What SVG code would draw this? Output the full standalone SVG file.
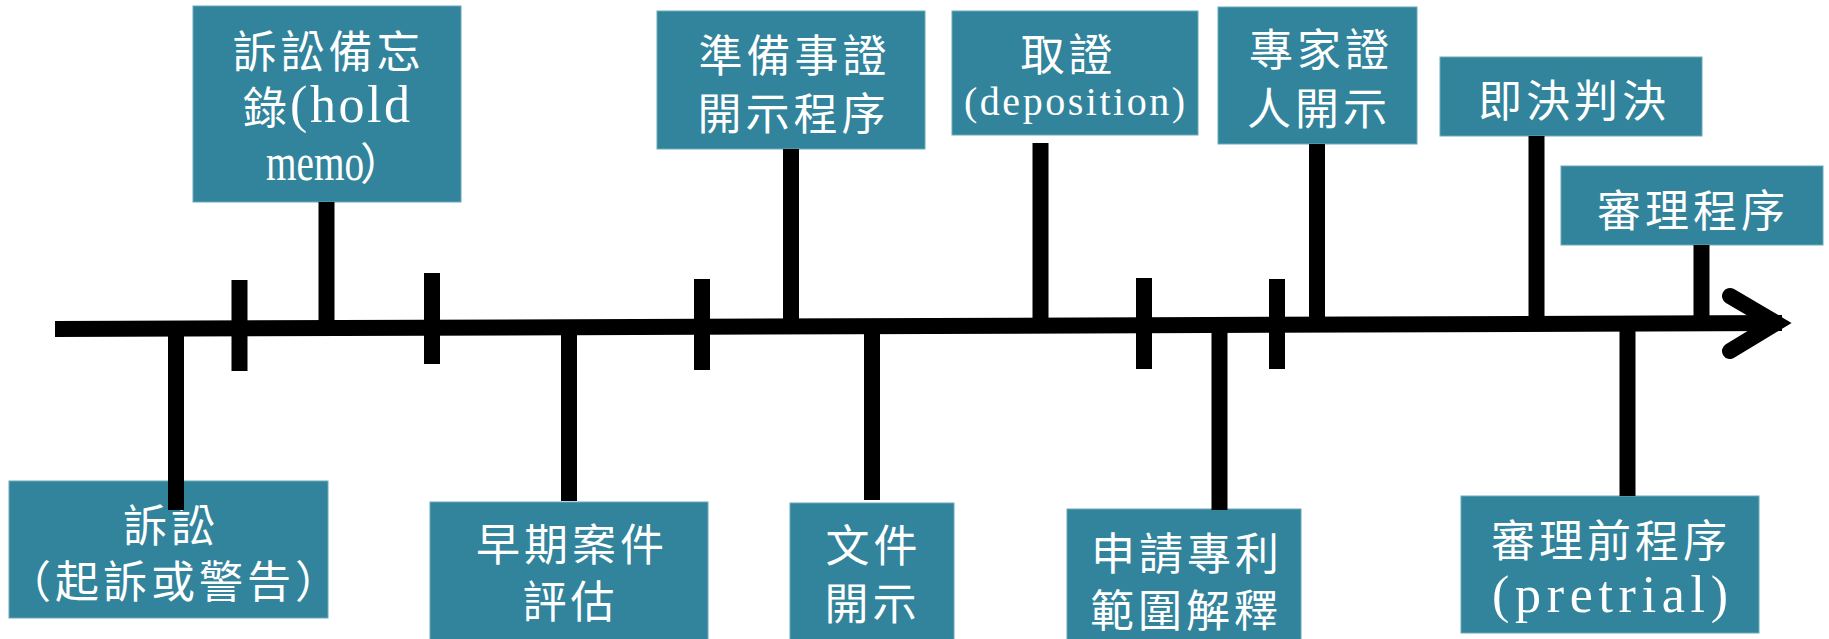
<svg xmlns="http://www.w3.org/2000/svg" width="1829" height="639" viewBox="0 0 1829 639">
<style>
.box{fill:#31849B;stroke:#6aaabb;stroke-width:1}
.c{font-family:"Noto Sans CJK TC","Noto Sans CJK SC",sans-serif;font-size:44px;fill:#fff;letter-spacing:4px;text-anchor:middle}
.s{font-family:"Noto Sans CJK TC","Noto Sans CJK SC",sans-serif;font-size:44px;fill:#fff;text-anchor:start}
.m{font-family:"Liberation Serif","Noto Sans CJK TC",serif;fill:#fff;text-anchor:start}
.ln{stroke:#000;stroke-width:16;fill:none}
</style>
<rect width="1829" height="639" fill="#fff"/>
<g id="n-holdmemo">
<rect class="box" x="193" y="6" width="268" height="196"/>
<text class="c" x="328.5" y="68">訴訟備忘</text>
<text class="s" x="243" y="124">錄</text>
<text class="m" x="290" y="122" font-size="52" textLength="120">(hold</text>
<text class="m" x="266" y="180" font-size="52" textLength="98" lengthAdjust="spacingAndGlyphs">memo</text>
<text class="s" x="360" y="180">）</text>
</g>
<g id="n-complaint">
<rect class="box" x="9" y="481" width="319" height="137"/>
<text class="c" x="171" y="542">訴訟</text>
<text class="c" x="175" y="598">（起訴或警告）</text>
</g>
<g id="n-ece">
<rect class="box" x="430" y="502" width="278" height="145"/>
<text class="c" x="572" y="561">早期案件</text>
<text class="c" x="570.5" y="618">評估</text>
</g>
<g id="n-discovery">
<rect class="box" x="657" y="11" width="268" height="138"/>
<text class="c" x="794.5" y="72">準備事證</text>
<text class="c" x="793.5" y="130">開示程序</text>
</g>
<g id="n-document">
<rect class="box" x="790" y="503" width="164" height="145"/>
<text class="c" x="873.5" y="562">文件</text>
<text class="c" x="872.5" y="619.5">開示</text>
</g>
<g id="n-deposition">
<rect class="box" x="952" y="11" width="246" height="124"/>
<text class="c" x="1068.5" y="70.5">取證</text>
<text class="m" x="964" y="115" font-size="40" textLength="221">(deposition)</text>
</g>
<g id="n-claim">
<rect class="box" x="1067" y="509" width="234" height="140"/>
<text class="c" x="1187" y="569.5">申請專利</text>
<text class="c" x="1186" y="627">範圍解釋</text>
</g>
<g id="n-expert">
<rect class="box" x="1218" y="7" width="199" height="137"/>
<text class="c" x="1321" y="66">專家證</text>
<text class="c" x="1319" y="124.5">人開示</text>
</g>
<g id="n-summary">
<rect class="box" x="1440" y="57" width="262" height="79"/>
<text class="c" x="1574" y="117">即決判決</text>
</g>
<g id="n-pretrial">
<rect class="box" x="1461" y="496" width="298" height="137"/>
<text class="c" x="1611" y="557">審理前程序</text>
<text class="m" x="1492" y="612" font-size="52" textLength="236">(pretrial)</text>
</g>
<g id="n-trial">
<rect class="box" x="1561" y="166" width="262" height="79"/>
<text class="c" x="1693" y="227">審理程序</text>
</g>
<g id="connectors">
<line class="ln" x1="55" y1="329" x2="1782" y2="323"/>
<polyline class="ln" points="1730,296 1776,323 1730,351" stroke-linecap="round" stroke-linejoin="miter"/>
<line class="ln" x1="326.5" y1="202" x2="326.5" y2="327"/>
<line class="ln" x1="791" y1="149" x2="791" y2="326"/>
<line class="ln" x1="1040.5" y1="143" x2="1040.5" y2="325"/>
<line class="ln" x1="1317" y1="144" x2="1317" y2="324"/>
<line class="ln" x1="1536.5" y1="136" x2="1536.5" y2="324"/>
<line class="ln" x1="1701.5" y1="245" x2="1701.5" y2="323"/>
<line class="ln" x1="176" y1="329" x2="176" y2="510"/>
<line class="ln" x1="569" y1="328" x2="569" y2="501"/>
<line class="ln" x1="872" y1="327" x2="872" y2="500"/>
<line class="ln" x1="1219.5" y1="325" x2="1219.5" y2="510"/>
<line class="ln" x1="1627.5" y1="324" x2="1627.5" y2="496"/>
<line class="ln" x1="239.5" y1="280" x2="239.5" y2="371"/>
<line class="ln" x1="432" y1="273" x2="432" y2="364"/>
<line class="ln" x1="702" y1="279" x2="702" y2="370"/>
<line class="ln" x1="1144" y1="278" x2="1144" y2="369"/>
<line class="ln" x1="1277" y1="279" x2="1277" y2="369"/>
</g>
</svg>
